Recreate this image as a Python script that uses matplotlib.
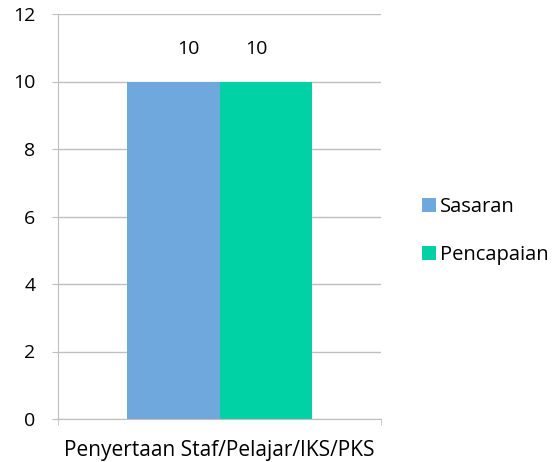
import matplotlib.pyplot as plt

# data
category = "Penyertaan Staf/Pelajar/IKS/PKS"
series_names = ["Sasaran", "Pencapaian"]
series_values = [10, 10]
series_colors = ["#6FA8DC", "#00D2A6"]
y_ticks = [0, 2, 4, 6, 8, 10, 12]

plt.rcParams['font.family'] = ['Open Sans', 'DejaVu Sans']
grid_col = "#BFBFBF"
fs = 14

fig = plt.figure(figsize=(5.53, 4.62), dpi=100)
ax = fig.add_axes([58 / 553, 43 / 462, 323 / 553, 405 / 462])

bar_w = 0.286
offsets = [-bar_w / 2, bar_w / 2]
label_shift = [11, -7]  # value labels sit a little toward the middle
for name, val, col, off, sh in zip(series_names, series_values, series_colors, offsets, label_shift):
    ax.bar(off, val, width=bar_w, color=col, label=name, zorder=2)
    ax.annotate(str(val), (off, val), xytext=(sh, 23.4), textcoords="offset points",
                ha="center", va="center", fontsize=fs)

ax.set_xlim(-0.5, 0.5)
ax.set_ylim(0, 12)
ax.set_yticks(y_ticks)
ax.yaxis.grid(True, color=grid_col, linewidth=1, zorder=0)
ax.set_xticks([0])
ax.set_xticklabels([category], fontsize=15)
ax.set_xticks([-0.5, 0.5], minor=True)
ax.tick_params(axis="x", which="major", length=0, pad=15)
ax.tick_params(axis="x", which="minor", length=4.3, color=grid_col)
ax.tick_params(axis="y", length=4.3, color=grid_col, labelsize=fs, pad=12)

for s in ["top", "right"]:
    ax.spines[s].set_visible(False)
for s in ["left", "bottom"]:
    ax.spines[s].set_color(grid_col)

fig.legend(loc="center left", bbox_to_anchor=(422 / 553, 1 - 231 / 462), frameon=False,
           fontsize=14.5, handlelength=0.69, handleheight=0.69, handletextpad=0.2,
           labelspacing=1.4, borderpad=0, borderaxespad=0)

fig.savefig("out.png", dpi=100)
